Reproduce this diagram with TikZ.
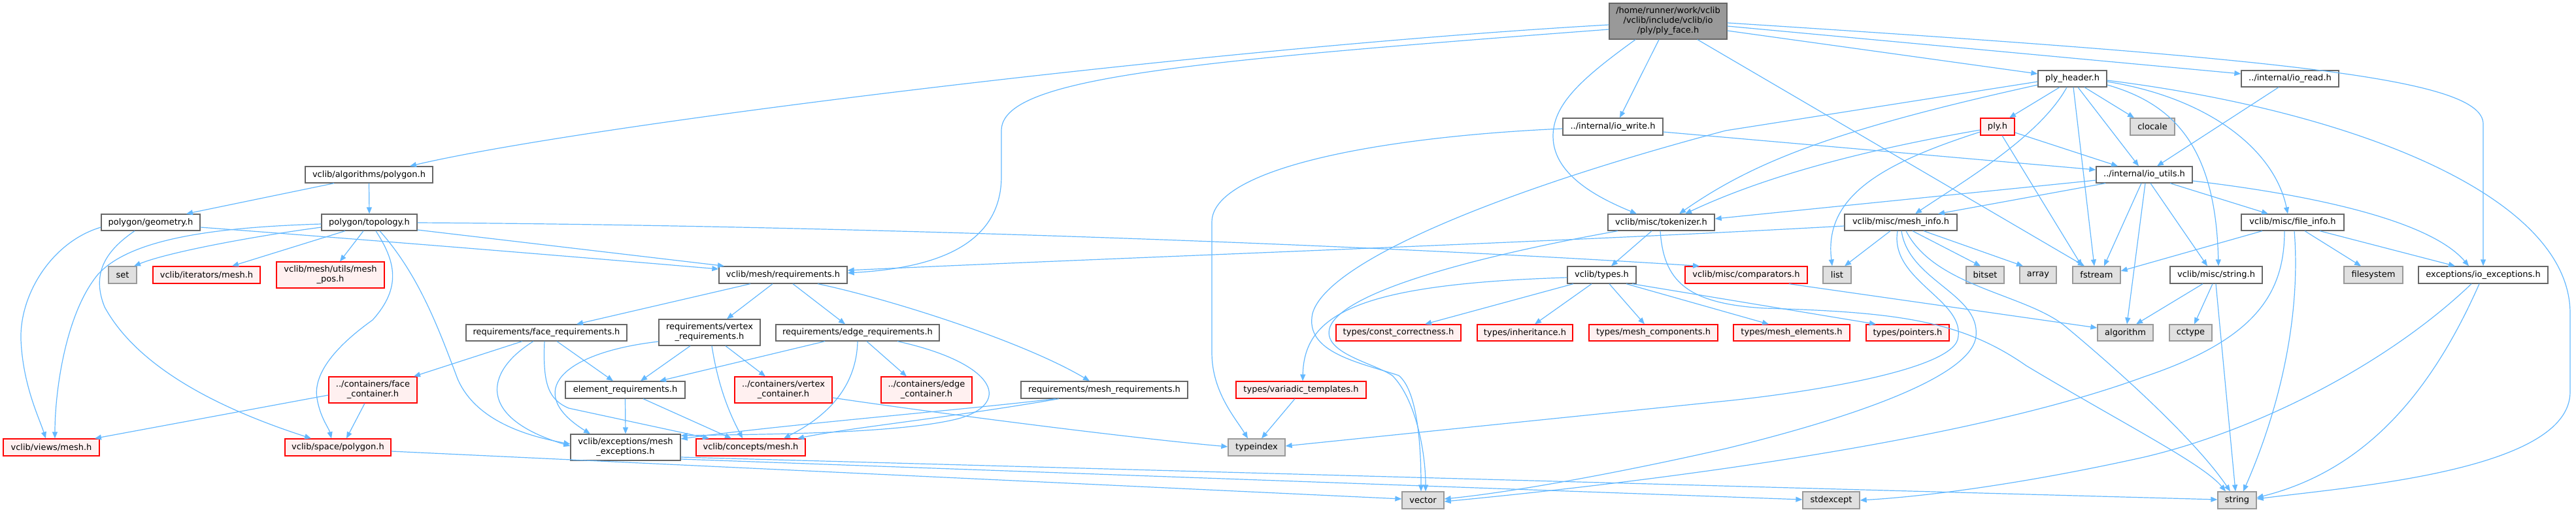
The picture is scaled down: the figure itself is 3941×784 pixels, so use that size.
\documentclass[tikz,border=0pt]{standalone}
\usepackage{fontspec}
\setmainfont{DejaVu Sans}
\usetikzlibrary{arrows.meta}
\definecolor{edgec}{HTML}{63B8FF}
\definecolor{redb}{HTML}{FF0000}
\definecolor{redf}{HTML}{FFF0F0}
\definecolor{grayf}{HTML}{E0E0E0}
\definecolor{grayb}{HTML}{999999}
\definecolor{darkb}{HTML}{666666}
\definecolor{mainf}{HTML}{999999}
\begin{document}
\begin{tikzpicture}[x=1pt,y=-1pt,
  box/.style={rectangle, inner sep=0pt, line width=1.3pt, align=center, font=\fontsize{13}{15}\selectfont},
  wbox/.style={box, draw=darkb, fill=white},
  gbox/.style={box, draw=grayb, fill=grayf},
  rbox/.style={box, draw=redb, fill=redf},
  mbox/.style={box, draw=darkb, fill=mainf},
  dep/.style={draw=edgec, line width=1.2pt, -{Triangle[length=10pt,width=8pt]}},
]
\useasboundingbox (0,0) rectangle (3941,784);

% ---------- nodes ----------
\node[mbox, minimum width=180pt, minimum height=55pt] (main) at (2552,32.5) {/home/runner/work/vclib\\/vclib/include/vclib/io\\/ply/ply\_face.h};
\node[wbox, minimum width=153pt, minimum height=26pt] (iowrite) at (2467.5,194) {../internal/io\_write.h};
\node[wbox, minimum width=163pt, minimum height=25pt] (tok) at (2541.5,340.5) {vclib/misc/tokenizer.h};
\node[wbox, minimum width=105pt, minimum height=25pt] (plyh) at (3170.5,120.5) {ply\_header.h};
\node[rbox, minimum width=52pt, minimum height=26pt] (ply) at (3056,194) {ply.h};
\node[gbox, minimum width=68pt, minimum height=26pt] (clocale) at (3293,194) {clocale};
\node[wbox, minimum width=147pt, minimum height=25pt] (ioutils) at (3280.5,267.5) {../internal/io\_utils.h};
\node[wbox, minimum width=172pt, minimum height=25pt] (meshinfo) at (2908,340.5) {vclib/misc/mesh\_info.h};
\node[wbox, minimum width=149pt, minimum height=25pt] (ioread) at (3503.5,120.5) {../internal/io\_read.h};
\node[wbox, minimum width=157pt, minimum height=25pt] (fileinfo) at (3507.5,340.5) {vclib/misc/file\_info.h};
\node[wbox, minimum width=195pt, minimum height=25pt] (algpoly) at (564.5,267.5) {vclib/algorithms/polygon.h};
\node[wbox, minimum width=151pt, minimum height=25pt] (geom) at (230.5,340.5) {polygon/geometry.h};
\node[wbox, minimum width=146pt, minimum height=25pt] (topo) at (565,340.5) {polygon/topology.h};
\node[gbox, minimum width=43pt, minimum height=26pt] (set) at (187.5,421) {set};
\node[rbox, minimum width=164pt, minimum height=26pt] (itmesh) at (316,421) {vclib/iterators/mesh.h};
\node[rbox, minimum width=165pt, minimum height=40pt] (meshpos) at (505.5,421) {vclib/mesh/utils/mesh\\\_pos.h};
\node[rbox, minimum width=135pt, minimum height=40pt] (facecont) at (570.5,597) {../containers/face\\\_container.h};
\node[rbox, minimum width=147pt, minimum height=26pt] (views) at (78.5,685) {vclib/views/mesh.h};
\node[rbox, minimum width=162pt, minimum height=26pt] (spoly) at (517,685) {vclib/space/polygon.h};
\node[wbox, minimum width=196pt, minimum height=26pt] (req) at (1198,421) {vclib/mesh/requirements.h};
\node[wbox, minimum width=246pt, minimum height=25pt] (facereq) at (836,509.5) {requirements/face\_requirements.h};
\node[wbox, minimum width=155pt, minimum height=40pt] (vertreq) at (1085.5,509) {requirements/vertex\\\_requirements.h};
\node[wbox, minimum width=250pt, minimum height=25pt] (edgereq) at (1312,509.5) {requirements/edge\_requirements.h};
\node[wbox, minimum width=183pt, minimum height=26pt] (elemreq) at (956.5,597) {element\_requirements.h};
\node[rbox, minimum width=149pt, minimum height=40pt] (vertcont) at (1198.5,597) {../containers/vertex\\\_container.h};
\node[wbox, minimum width=168pt, minimum height=40pt] (meshexc) at (957,685) {vclib/exceptions/mesh\\\_exceptions.h};
\node[rbox, minimum width=167pt, minimum height=26pt] (concepts) at (1148.5,685) {vclib/concepts/mesh.h};
\node[rbox, minimum width=139pt, minimum height=40pt] (edgecont) at (1417.5,597) {../containers/edge\\\_container.h};
\node[wbox, minimum width=255pt, minimum height=26pt] (meshreq) at (1689.5,597) {requirements/mesh\_requirements.h};
\node[gbox, minimum width=87pt, minimum height=26pt] (typeindex) at (1922.5,685) {typeindex};
\node[rbox, minimum width=199pt, minimum height=26pt] (variadic) at (1990.5,597) {types/variadic\_templates.h};
\node[wbox, minimum width=105pt, minimum height=26pt] (types) at (2450.5,421) {vclib/types.h};
\node[rbox, minimum width=191pt, minimum height=25pt] (constc) at (2139.5,509.5) {types/const\_correctness.h};
\node[rbox, minimum width=146pt, minimum height=25pt] (inher) at (2333,509.5) {types/inheritance.h};
\node[rbox, minimum width=197pt, minimum height=25pt] (meshcomp) at (2529.5,509.5) {types/mesh\_components.h};
\node[rbox, minimum width=187pt, minimum height=26pt] (comparators) at (2671.5,421) {vclib/misc/comparators.h};
\node[gbox, minimum width=64pt, minimum height=26pt] (vector) at (2177,766) {vector};
\node[gbox, minimum width=43pt, minimum height=26pt] (list) at (2810.5,421) {list};
\node[gbox, minimum width=58pt, minimum height=26pt] (bitset) at (3037,421) {bitset};
\node[gbox, minimum width=56pt, minimum height=26pt] (array) at (3118,421) {array};
\node[gbox, minimum width=73pt, minimum height=26pt] (fstream) at (3207.5,421) {fstream};
\node[rbox, minimum width=178pt, minimum height=25pt] (meshelem) at (2741,509.5) {types/mesh\_elements.h};
\node[rbox, minimum width=127pt, minimum height=25pt] (pointers) at (2918.5,509.5) {types/pointers.h};
\node[gbox, minimum width=85pt, minimum height=25pt] (algorithm) at (3251.5,509.5) {algorithm};
\node[gbox, minimum width=87pt, minimum height=26pt] (stdexcept) at (2801.5,766) {stdexcept};
\node[wbox, minimum width=141pt, minimum height=26pt] (mstring) at (3390.5,421) {vclib/misc/string.h};
\node[gbox, minimum width=90pt, minimum height=26pt] (filesystem) at (3631,421) {filesystem};
\node[wbox, minimum width=198pt, minimum height=26pt] (ioexc) at (3799,421) {exceptions/io\_exceptions.h};
\node[gbox, minimum width=65pt, minimum height=25pt] (cctype) at (3351.5,509.5) {cctype};
\node[gbox, minimum width=59pt, minimum height=26pt] (string) at (3422.5,766) {string};

% ---------- edges: main ----------
\draw[dep] ([yshift=-5.5pt]main.west) .. controls (1862,72) and (900,190) .. ([xshift=62.5pt]algpoly.north);
\draw[dep] ([yshift=-12.5pt]main.west) .. controls (1800,95) and (1532,120) .. (1532,200) -- (1532,270) .. controls (1532,390) and (1400,412) .. ([yshift=3pt]req.east);
\draw[dep] ([xshift=-14pt]main.south) -- ([xshift=10.5pt]iowrite.north);
\draw[dep] ([xshift=-50pt]main.south) .. controls (2420,120) and (2375,160) .. (2376,210) .. controls (2377,270) and (2450,305) .. ([xshift=-37.5pt]tok.north);
\draw[dep] ([yshift=-14.5pt]main.east) -- ([yshift=7.5pt]plyh.west);
\draw[dep] ([yshift=-7.5pt]main.east) -- ([yshift=7.5pt]ioread.west);
\draw[dep] ([yshift=-2.5pt]main.east) .. controls (3500,90) and (3799,120) .. (3799,190) -- (ioexc.north);
\draw[dep] ([xshift=45pt]main.south) -- ([xshift=-18.5pt]fstream.north);

% ---------- ply_header ----------
\draw[dep] ([xshift=-19.5pt]plyh.south) -- ([xshift=18pt]ply.north);
\draw[dep] ([xshift=-8.5pt]plyh.south) .. controls (3120,210) and (3000,280) .. ([xshift=22pt]meshinfo.north);
\draw[dep] ([xshift=1.5pt]plyh.south) -- ([xshift=-3.5pt]fstream.north);
\draw[dep] ([xshift=8.5pt]plyh.south) -- ([xshift=-8.5pt]ioutils.north);
\draw[dep] ([xshift=18.5pt]plyh.south) -- ([xshift=-28pt]clocale.north);
\draw[dep] ([yshift=-4.5pt]plyh.west) -- (2640,200) .. controls (2300,290) and (2030,400) .. (2008,480) .. controls (1995,540) and (2080,555) .. (2140,575) .. controls (2170,600) and (2174,690) .. ([xshift=-3pt]vector.north);
\draw[dep] ([yshift=-9.5pt]plyh.west) .. controls (2800,200) and (2680,250) .. ([xshift=27.5pt]tok.north);
\draw[dep] ([yshift=-2.5pt]plyh.east) .. controls (3600,170) and (3932,300) .. (3932,480) -- (3932,600) .. controls (3932,720) and (3600,745) .. ([yshift=2pt]string.east);
\draw[dep] ([yshift=-4.5pt]plyh.east) .. controls (3380,150) and (3480,230) .. ([xshift=-7.5pt]fileinfo.north);
\draw[dep] ([yshift=-9.5pt]plyh.east) .. controls (3330,160) and (3390,230) .. ([xshift=3.5pt]mstring.north);

% ---------- ply.h ----------
\draw[dep] ([yshift=-9pt]ply.east) -- ([xshift=-40.5pt]ioutils.north);
\draw[dep] ([yshift=-5pt]ply.west) .. controls (2850,230) and (2700,270) .. ([xshift=36.5pt]tok.north);
\draw[dep] ([yshift=-8pt]ply.west) .. controls (2880,250) and (2790,300) .. ([xshift=-7.5pt]list.north);
\draw[dep] ([xshift=7pt]ply.south) -- ([xshift=-22.5pt]fstream.north);

% ---------- io_read / io_write ----------
\draw[dep] ([xshift=-17.5pt]ioread.south) -- ([xshift=19.5pt]ioutils.north);
\draw[dep] ([yshift=-8pt]iowrite.east) -- ([yshift=7.5pt]ioutils.west);
\draw[dep] ([yshift=-3pt]iowrite.west) .. controls (2100,210) and (1854,260) .. (1854,340) -- (1854,540) .. controls (1854,600) and (1890,640) .. ([xshift=-13.5pt]typeindex.north);

% ---------- io_utils ----------
\draw[dep] ([yshift=-8.5pt]ioutils.west) -- ([yshift=5.5pt]tok.east);
\draw[dep] ([xshift=-59.5pt]ioutils.south) -- ([xshift=57pt]meshinfo.north);
\draw[dep] ([xshift=-4.5pt]ioutils.south) -- ([xshift=11.5pt]fstream.north);
\draw[dep] ([xshift=1.5pt]ioutils.south) -- ([xshift=2.5pt]algorithm.north);
\draw[dep] ([xshift=9.5pt]ioutils.south) -- ([xshift=-13.5pt]mstring.north);
\draw[dep] ([xshift=39.5pt]ioutils.south) -- ([xshift=-37.5pt]fileinfo.north);
\draw[dep] ([yshift=-9.5pt]ioutils.east) .. controls (3550,300) and (3720,340) .. ([xshift=-22pt]ioexc.north);

% ---------- mesh_info ----------
\draw[dep] ([yshift=-5.5pt]meshinfo.west) .. controls (2400,370) and (1700,395) .. ([yshift=7pt]req.east);
\draw[dep] ([xshift=-16pt]meshinfo.south) -- ([xshift=11.5pt]list.north);
\draw[dep] ([xshift=-5pt]meshinfo.south) .. controls (2890,430) and (3010,460) .. (2995,520) .. controls (2980,570) and (2740,604) .. (2640,614) -- ([yshift=2pt]typeindex.east);
\draw[dep] ([xshift=1pt]meshinfo.south) .. controls (2920,430) and (3030,450) .. (3023,515) .. controls (3015,590) and (2750,660) .. (2640,687) .. controls (2450,730) and (2300,755) .. ([yshift=2pt]vector.east);
\draw[dep] ([xshift=8pt]meshinfo.south) .. controls (2960,440) and (3100,450) .. (3160,500) .. controls (3280,600) and (3370,690) .. ([xshift=-10.5pt]string.north);
\draw[dep] ([xshift=18pt]meshinfo.south) -- ([xshift=-7pt]bitset.north);
\draw[dep] ([xshift=35pt]meshinfo.south) -- ([xshift=-23pt]array.north);

% ---------- tokenizer ----------
\draw[dep] ([xshift=-14.5pt]tok.south) -- ([xshift=14.5pt]types.north);
\draw[dep] ([xshift=-66.5pt]tok.south) .. controls (2300,385) and (2060,440) .. (2035,500) .. controls (2020,540) and (2100,555) .. (2130,575) .. controls (2165,610) and (2181,690) .. ([xshift=4pt]vector.north);
\draw[dep] ([xshift=-1.5pt]tok.south) .. controls (2545,430) and (2580,465) .. (2700,472) .. controls (2900,478) and (3000,490) .. (3100,560) .. controls (3250,650) and (3370,710) .. ([xshift=-17.5pt]string.north);

% ---------- types ----------
\draw[dep] ([xshift=-43.5pt]types.south) -- ([xshift=40.5pt]constc.north);
\draw[dep] ([xshift=-15.5pt]types.south) -- ([xshift=15pt]inher.north);
\draw[dep] ([xshift=11.5pt]types.south) -- ([xshift=-13.5pt]meshcomp.north);
\draw[dep] ([xshift=37.5pt]types.south) -- ([xshift=-35pt]meshelem.north);
\draw[dep] ([xshift=46.5pt]types.south) -- ([xshift=-48.5pt]pointers.north);
\draw[dep] ([yshift=-4pt]types.west) .. controls (2080,435) and (1995,480) .. ([xshift=2.5pt]variadic.north);

% ---------- comparators / string.h ----------
\draw[dep] ([xshift=65.5pt]comparators.south) -- ([yshift=7.5pt]algorithm.west);
\draw[dep] ([xshift=-20.5pt]mstring.south) -- ([xshift=16.5pt]algorithm.north);
\draw[dep] ([xshift=-5.5pt]mstring.south) -- ([xshift=5.5pt]cctype.north);
\draw[dep] ([xshift=-0.5pt]mstring.south) -- ([xshift=-2.5pt]string.north);

% ---------- file_info ----------
\draw[dep] ([xshift=-46.5pt]fileinfo.south) -- ([yshift=6pt]fstream.east);
\draw[dep] ([xshift=-12.5pt]fileinfo.south) .. controls (3495,450) and (3450,520) .. (3280,577) .. controls (3000,680) and (2500,740) .. ([yshift=-2pt]vector.east);
\draw[dep] ([xshift=2.5pt]fileinfo.south) .. controls (3520,480) and (3490,620) .. ([xshift=9.5pt]string.north);
\draw[dep] ([xshift=18.5pt]fileinfo.south) -- ([xshift=-19pt]filesystem.north);
\draw[dep] ([xshift=41.5pt]fileinfo.south) -- ([xshift=-43pt]ioexc.north);

% ---------- io_exceptions ----------
\draw[dep] ([xshift=-18pt]ioexc.south) .. controls (3650,560) and (3450,660) .. (3280,700) .. controls (3100,740) and (2950,760) .. (stdexcept.east);
\draw[dep] ([xshift=-6pt]ioexc.south) .. controls (3720,600) and (3620,720) .. ([yshift=4pt]string.east);

% ---------- algorithms/polygon ----------
\draw[dep] ([xshift=-53.5pt]algpoly.south) -- ([xshift=54.5pt]geom.north);
\draw[dep] (algpoly.south) -- (topo.north);

% ---------- geometry ----------
\draw[dep] ([yshift=-7.5pt]geom.west) .. controls (80,370) and (30,450) .. (32,520) .. controls (35,590) and (60,640) .. ([xshift=-8.5pt]views.north);
\draw[dep] ([xshift=-24.5pt]geom.south) .. controls (160,385) and (140,420) .. (160,470) .. controls (220,580) and (380,640) .. ([xshift=-41pt]spoly.north);
\draw[dep] ([yshift=-7.5pt]geom.east) .. controls (600,370) and (900,395) .. ([yshift=9pt]req.west);

% ---------- topology ----------
\draw[dep] ([yshift=-2.5pt]topo.west) .. controls (330,348) and (200,365) .. (150,420) .. controls (100,480) and (84,600) .. ([xshift=5.5pt]views.north);
\draw[dep] ([yshift=-7.5pt]topo.west) .. controls (400,360) and (260,385) .. ([xshift=17.5pt]set.north);
\draw[dep] ([xshift=-37pt]topo.south) -- ([xshift=39pt]itmesh.north);
\draw[dep] ([xshift=-9pt]topo.south) -- ([xshift=14.5pt]meshpos.north);
\draw[dep] ([xshift=10pt]topo.south) .. controls (605,400) and (615,440) .. (570,490) .. controls (500,540) and (480,580) .. (485,610) .. controls (490,640) and (503,655) .. ([xshift=-10pt]spoly.north);
\draw[dep] ([xshift=16pt]topo.south) .. controls (640,420) and (670,500) .. (700,580) .. controls (730,650) and (820,670) .. ([yshift=5pt]meshexc.west);
\draw[dep] ([yshift=-11.5pt]topo.east) -- ([xshift=-90pt]req.north);
\draw[dep] ([yshift=-0.5pt]topo.east) .. controls (1300,345) and (2100,375) .. ([xshift=-71.5pt]comparators.north);

% ---------- mesh/requirements ----------
\draw[dep] ([xshift=-50pt]req.south) -- ([xshift=46pt]facereq.north);
\draw[dep] ([xshift=-16pt]req.south) -- ([xshift=26.5pt]vertreq.north);
\draw[dep] ([xshift=15pt]req.south) -- ([xshift=-19pt]edgereq.north);
\draw[dep] ([xshift=53pt]req.south) .. controls (1350,455) and (1560,520) .. ([xshift=-22.5pt]meshreq.north);

% ---------- face requirements ----------
\draw[dep] ([xshift=-37pt]facereq.south) -- ([xshift=62.5pt]facecont.north);
\draw[dep] ([xshift=-20pt]facereq.south) .. controls (740,570) and (730,640) .. ([yshift=2pt]meshexc.west);
\draw[dep] ([xshift=-3pt]facereq.south) .. controls (830,590) and (840,612) .. (870,625) -- ([xshift=-63.5pt]concepts.north);
\draw[dep] ([xshift=16pt]facereq.south) -- ([xshift=-18.5pt]elemreq.north);

% ---------- vertex requirements ----------
\draw[dep] ([yshift=-14pt]vertreq.west) .. controls (860,540) and (800,600) .. ([xshift=-54pt]meshexc.north);
\draw[dep] ([xshift=-29.5pt]vertreq.south) -- ([xshift=23.5pt]elemreq.north);
\draw[dep] ([xshift=3.5pt]vertreq.south) .. controls (1100,600) and (1120,640) .. ([xshift=-12.5pt]concepts.north);
\draw[dep] ([xshift=24.5pt]vertreq.south) -- ([xshift=-27.5pt]vertcont.north);

% ---------- edge requirements ----------
\draw[dep] ([xshift=-50pt]edgereq.south) -- ([xshift=52.5pt]elemreq.north);
\draw[dep] (edgereq.south) .. controls (1310,610) and (1240,650) .. ([xshift=50.5pt]concepts.north);
\draw[dep] ([xshift=14pt]edgereq.south) -- ([xshift=-30.5pt]edgecont.north);
\draw[dep] ([xshift=61pt]edgereq.south) .. controls (1520,555) and (1550,615) .. (1470,640) .. controls (1380,665) and (1150,665) .. ([yshift=18pt]meshexc.east);

% ---------- element requirements ----------
\draw[dep] (elemreq.south) -- (meshexc.north);
\draw[dep] ([xshift=27.5pt]elemreq.south) -- ([xshift=-29.5pt]concepts.north);

% ---------- containers ----------
\draw[dep] ([yshift=-12pt]vertcont.east) .. controls (1380,625) and (1700,668) .. ([yshift=1pt]typeindex.west);
\draw[dep] ([yshift=-8pt]facecont.west) -- ([xshift=66.5pt]views.north);
\draw[dep] ([xshift=-12.5pt]facecont.south) -- ([xshift=13pt]spoly.north);

% ---------- mesh requirements ----------
\draw[dep] ([xshift=-74.5pt]meshreq.south) .. controls (1450,630) and (1200,650) .. ([yshift=13pt]meshexc.east);
\draw[dep] ([xshift=-69.5pt]meshreq.south) .. controls (1450,640) and (1300,655) .. ([xshift=71.5pt]concepts.north);

% ---------- variadic / space / exceptions ----------
\draw[dep] ([xshift=-9.5pt]variadic.south) -- ([xshift=7.5pt]typeindex.north);
\draw[dep] ([yshift=-6pt]spoly.east) -- ([yshift=2pt]vector.west);
\draw[dep] ([yshift=-15pt]meshexc.east) -- ([yshift=1pt]string.west);
\draw[dep] ([yshift=-18pt]meshexc.east) -- ([yshift=1pt]stdexcept.west);

\end{tikzpicture}
\end{document}
